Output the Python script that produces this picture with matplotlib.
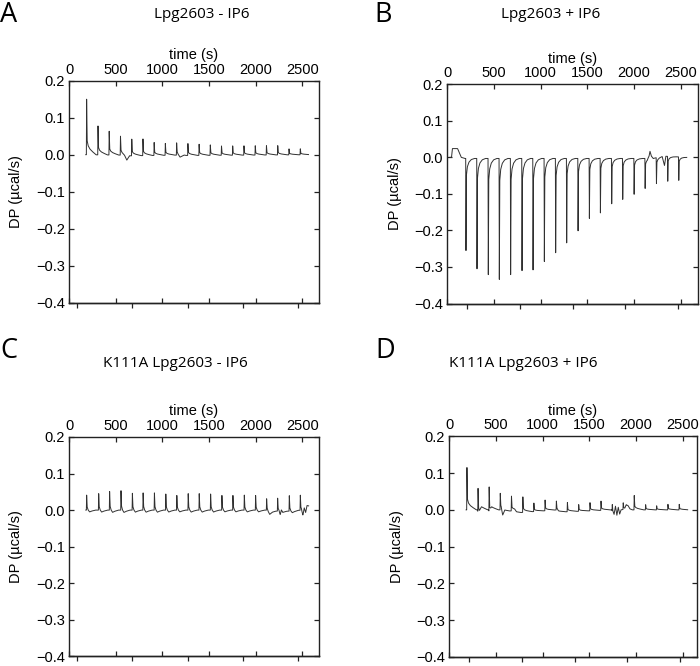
import numpy as np
import matplotlib
matplotlib.use("Agg")
import matplotlib.pyplot as plt
from matplotlib.ticker import FuncFormatter

# ---------------- data ----------------
titles = ["Lpg2603 - IP6", "Lpg2603 + IP6", "K111A Lpg2603 - IP6", "K111A Lpg2603 + IP6"]
letters = ["A", "B", "C", "D"]

A_times = [186, 308, 428, 549, 670, 790, 910, 1030, 1151, 1272, 1392, 1512,
           1632, 1752, 1873, 1994, 2114, 2235, 2356, 2477]
A_peaks = [0.150, 0.078, 0.064, 0.051, 0.045, 0.045, 0.035, 0.032, 0.033, 0.032,
           0.030, 0.028, 0.025, 0.025, 0.025, 0.025, 0.025, 0.025, 0.016, 0.016]
A_base_t = [180, 560, 595, 620, 650, 1160, 1190, 1235, 2568]
A_base_y = [0.0, -0.001, -0.006, -0.017, -0.003, -0.001, -0.010, -0.002, 0.0]

B_times = [197, 315, 436, 554, 675, 797, 915, 1036, 1157, 1275, 1397, 1518,
           1636, 1757, 1875, 1997, 2115, 2236, 2357, 2475]
B_peaks = [-0.252, -0.302, -0.318, -0.331, -0.318, -0.307, -0.305, -0.282, -0.258,
           -0.231, -0.198, -0.164, -0.149, -0.124, -0.112, -0.098, -0.082, -0.071,
           -0.068, -0.064]
B_base_t = [30, 45, 55, 110, 125, 150, 190, 2140, 2160, 2170, 2185, 2205,
            2300, 2325, 2340, 2563]
B_base_y = [0.0, 0.0, 0.024, 0.024, 0.015, 0.0, -0.003, -0.003, 0.006, 0.018,
            0.004, -0.003, 0.003, -0.022, 0.003, 0.0]

C_times = [186, 315, 432, 554, 676, 791, 912, 1034, 1152, 1274, 1392, 1514,
           1635, 1753, 1875, 1996, 2114, 2232, 2357, 2475]
C_peaks = [0.041, 0.045, 0.051, 0.053, 0.046, 0.047, 0.047, 0.044, 0.040, 0.045,
           0.045, 0.044, 0.040, 0.040, 0.041, 0.040, 0.031, 0.035, 0.042, 0.041]
C_base_t = [180, 2120, 2150, 2180, 2250, 2262, 2275, 2290, 2490, 2505, 2520,
            2535, 2550, 2567]
C_base_y = [0.0, 0.0, -0.008, -0.004, -0.002, -0.009, 0.004, -0.004, 0.0,
            -0.010, 0.010, -0.004, 0.014, 0.012]

D_times = [186, 305, 424, 543, 663, 785, 903, 1023, 1144, 1262, 1383, 1504,
           1622, 1743, 1860, 1978, 2100, 2218, 2339, 2460]
D_peaks = [0.115, 0.064, 0.067, 0.045, 0.040, 0.042, 0.023, 0.029, 0.024, 0.025,
           0.018, 0.022, 0.025, 0.018, 0.018, 0.039, 0.014, 0.011, 0.015, 0.015]
D_base_t = [180, 300, 320, 345, 420, 435, 455, 555, 572, 595, 700, 720, 1150,
            1170, 1740, 1765, 1780, 1795, 1810, 1825, 1840, 1880, 1895, 1915,
            1935, 1960, 2553]
D_base_y = [0.0, 0.0, -0.014, 0.002, 0.0, -0.010, 0.0, 0.0, -0.020, -0.004,
            -0.002, -0.008, 0.0, -0.006, 0.0, -0.015, 0.008, -0.016, 0.006,
            -0.012, 0.0, 0.002, 0.012, 0.010, 0.002, 0.0, 0.0]

# bottom (unlabelled) tick positions, in seconds
A_bottom = [83, 679, 1274, 1864, 2454]
B_bottom = [214, 778, 1343, 1900, 2467]

xmax = [2675, 2687, 2678, 2650]
yticks = [-0.4, -0.3, -0.2, -0.1, 0.0, 0.1, 0.2]
xticks = [0, 500, 1000, 1500, 2000, 2500]

# ---------------- styling ----------------
TPL_POS = (np.array([0, 3, 9, 20, 40, 70, 105]), np.array([0, 1, 0.25, 0.16, 0.1, 0.05, 0]))
TPL_NEG = (np.array([0, 3, 8, 18, 35, 60, 95]), np.array([0, 1, 0.18, 0.09, 0.04, 0.012, 0]))
TPL_C = (np.array([0, 3, 9, 20, 35, 60, 100]), np.array([0, 1, 0.2, 0.0, -0.12, -0.06, 0]))

panels = [
    (A_times, A_peaks, A_base_t, A_base_y, TPL_POS, A_bottom),
    (B_times, B_peaks, B_base_t, B_base_y, TPL_NEG, B_bottom),
    (C_times, C_peaks, C_base_t, C_base_y, TPL_C, A_bottom),
    (D_times, D_peaks, D_base_t, D_base_y, TPL_POS, B_bottom),
]

W, H = 700, 666
rects_px = [  # left, top, right, bottom in pixels
    (69, 80.7, 318.5, 302.7),
    (447.3, 84.3, 698.3, 303.5),
    (69, 437, 319, 656.3),
    (449.3, 436.3, 696.7, 657),
]
title_pos = [(201.7, 17.5), (550.5, 17.5), (175, 367), (523, 367)]
letter_pos = [(0, 1), (374, 1), (0, 337), (375, 337)]

AX_FONT = "Liberation Sans"
TITLE_FONT = "Open Sans"
FS = 10.5
SPINE = "#222222"
LINE = "#303030"


def build(times, peaks, bt, by, tpl):
    offs, fr = tpl
    tt = list(bt)
    for t in times:
        tt += list(t + offs)
    tt = np.unique(np.clip(np.array(tt, float), bt[0], bt[-1]))
    y = np.interp(tt, bt, by)
    for t, p in zip(times, peaks):
        y = y + np.interp(tt, t + offs, p * fr, left=0, right=0)
    return tt, y


fig = plt.figure(figsize=(W / 100, H / 100), dpi=100)
fmt = FuncFormatter(lambda v, p: f"{v:.1f}".replace("-", "\u2212"))

for i, (times, peaks, bt, by, tpl, bottom) in enumerate(panels):
    l, t, r, b = rects_px[i]
    ax = fig.add_axes([l / W, 1 - b / H, (r - l) / W, (b - t) / H])
    x, y = build(times, peaks, bt, by, tpl)
    ax.plot(x, y, color=LINE, lw=0.7)
    ax.set_xlim(0, xmax[i])
    ax.set_ylim(-0.4, 0.2)
    ax.set_xticks(xticks)
    ax.set_yticks(yticks)
    ax.yaxis.set_major_formatter(fmt)
    ax.tick_params(direction="in", length=3.5, width=0.9, color=SPINE,
                   top=True, bottom=True, left=True, right=True,
                   labeltop=True, labelbottom=False, labelsize=FS, pad=3.0)
    for lab in ax.get_xticklabels() + ax.get_yticklabels():
        lab.set_fontfamily(AX_FONT)
    for s in ax.spines.values():
        s.set_color(SPINE)
        s.set_linewidth(1.0)
    ax.xaxis.set_label_position("top")
    ax.set_xlabel("time (s)", fontsize=FS, family=AX_FONT, labelpad=2.5)
    ax.set_ylabel("DP (\u00b5cal/s)", fontsize=FS, family=AX_FONT, labelpad=9)

    sec = ax.secondary_xaxis("bottom")
    sec.set_xticks(bottom)
    sec.tick_params(direction="out", length=3.5, width=0.9, color=SPINE,
                    labelbottom=False)
    sec.spines["bottom"].set_color(SPINE)
    sec.spines["bottom"].set_linewidth(1.0)

    tx, ty = title_pos[i]
    fig.text(tx / W, 1 - ty / H, titles[i], ha="center", va="baseline",
             fontsize=11, family=TITLE_FONT)
    lx, ly = letter_pos[i]
    fig.text(lx / W, 1 - ly / H, letters[i], ha="left", va="top",
             fontsize=19.5, family=TITLE_FONT)

fig.savefig("out.png", dpi=100)
